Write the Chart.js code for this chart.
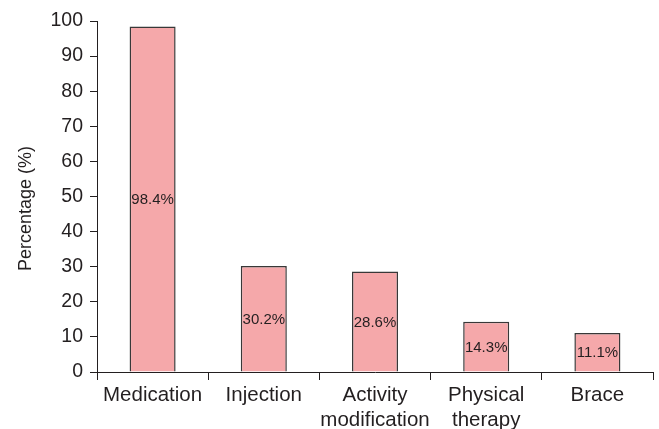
<!DOCTYPE html>
<html>
<head>
<meta charset="utf-8">
<script src="https://cdn.jsdelivr.net/npm/chart.js@4/dist/chart.umd.min.js"></script>
<style>
  html, body { margin: 0; padding: 0; background: #ffffff; }
  #wrap { width: 659px; height: 429px; position: relative; }
</style>
</head>
<body>
<div id="wrap"><canvas id="chart"></canvas></div>
<script>
// Treatment categories and the share of patients receiving each one
const categories = ["Medication", "Injection", ["Activity", "modification"], ["Physical", "therapy"], "Brace"];
const percentages = [98.4, 30.2, 28.6, 14.3, 11.1];
const yTicks = [0, 10, 20, 30, 40, 50, 60, 70, 80, 90, 100];
const yTitle = "Percentage (%)";

const INK = "#231f20";
const FONT = "'Liberation Sans', Arial, Helvetica, sans-serif";

// Writes each bar's value at the vertical middle of the bar
const barValueLabels = {
  id: "barValueLabels",
  afterDatasetsDraw(chart) {
    const ctx = chart.ctx;
    const meta = chart.getDatasetMeta(0);
    ctx.save();
    ctx.font = "15px " + FONT;
    ctx.fillStyle = INK;
    ctx.textAlign = "center";
    ctx.textBaseline = "middle";
    meta.data.forEach((bar, i) => {
      const v = chart.data.datasets[0].data[i];
      ctx.fillText(v.toFixed(1) + "%", bar.x, (bar.y + bar.base) / 2 + 1);
    });
    ctx.restore();
  }
};

// Rotated y-axis title, sitting slightly below the axis midpoint
const yAxisTitle = {
  id: "yAxisTitle",
  afterDraw(chart) {
    const ctx = chart.ctx;
    const area = chart.chartArea;
    ctx.save();
    ctx.translate(26, (area.top + area.bottom) / 2 + 12);
    ctx.rotate(-Math.PI / 2);
    ctx.font = "18px " + FONT;
    ctx.fillStyle = INK;
    ctx.textAlign = "center";
    ctx.textBaseline = "middle";
    ctx.fillText(yTitle, 0, 0);
    ctx.restore();
  }
};

new Chart(document.getElementById("chart"), {
  type: "bar",
  data: {
    labels: categories,
    datasets: [{
      data: percentages,
      backgroundColor: "#f5a8aa",
      borderColor: "#383838",
      borderWidth: 1.5,
      barPercentage: 0.414,
      categoryPercentage: 1
    }]
  },
  options: {
    responsive: true,
    maintainAspectRatio: false,
    animation: false,
    devicePixelRatio: 1,
    layout: { padding: { top: 21, right: 6, left: 0, bottom: 0 } },
    plugins: {
      legend: { display: false },
      tooltip: { enabled: false }
    },
    scales: {
      x: {
        offset: true,
        grid: {
          offset: true,
          drawOnChartArea: false,
          drawTicks: true,
          tickLength: 8,
          color: INK,
          lineWidth: 1
        },
        border: { display: true, color: INK, width: 1 },
        ticks: {
          color: INK,
          padding: 3,
          maxRotation: 0,
          autoSkip: false,
          font: { family: FONT, size: 20.5, lineHeight: 1.2 }
        },
        afterFit(scale) { scale.height = 57; }
      },
      y: {
        min: 0,
        max: 100,
        afterBuildTicks(scale) { scale.ticks = yTicks.map(v => ({ value: v })); },
        grid: {
          drawOnChartArea: false,
          drawTicks: true,
          tickLength: 7,
          color: INK,
          lineWidth: 1
        },
        border: { display: true, color: INK, width: 1 },
        ticks: {
          color: INK,
          padding: 7,
          font: { family: FONT, size: 19.5 }
        },
        afterFit(scale) { scale.width = 97; }
      }
    }
  },
  plugins: [barValueLabels, yAxisTitle]
});
</script>
</body>
</html>
